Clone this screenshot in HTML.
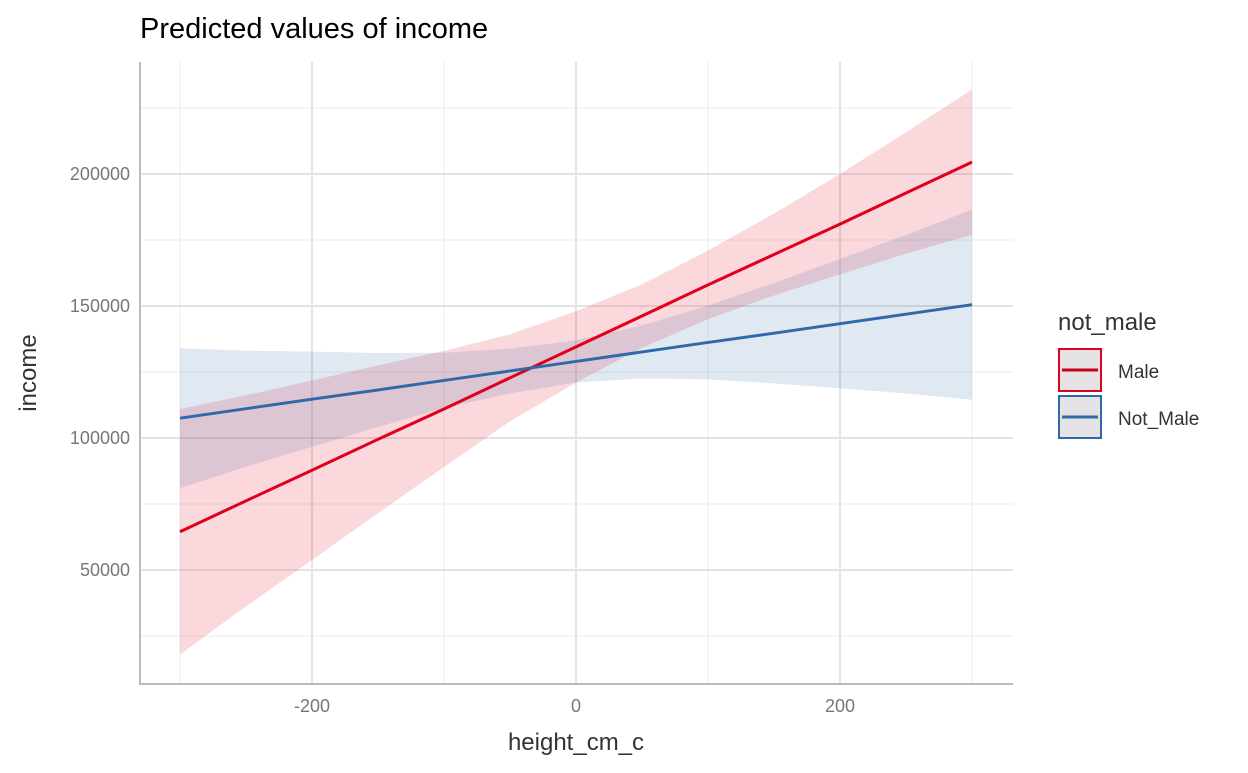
<!DOCTYPE html>
<html><head><meta charset="utf-8"><style>
body{margin:0;background:#fff;font-family:"Liberation Sans",Arial,sans-serif}
</style></head><body>
<svg width="1248" height="768" xmlns="http://www.w3.org/2000/svg">
<text x="140" y="38" font-size="29" fill="#000">Predicted values of income</text>
<g id="grid"></g>
<g id="bands"></g>
<g id="lines"></g>
<g id="axes"></g>
<text x="576" y="750" font-size="24" text-anchor="middle" fill="#333">height_cm_c</text>
<text transform="translate(36,373) rotate(-90)" font-size="24" text-anchor="middle" fill="#333">income</text>
<g>
<text x="1058" y="330" font-size="24" fill="#333">not_male</text>
<g>
<rect x="1059" y="349" width="42" height="42" fill="#e3e3e3" stroke="#e0001b" stroke-width="2"/>
<line x1="1062" y1="370" x2="1098" y2="370" stroke="#c8001a" stroke-width="3"/>
<text x="1118" y="378" font-size="19" fill="#333">Male</text></g>
<g>
<rect x="1059" y="396" width="42" height="42" fill="#e3e3e3" stroke="#2f6aa8" stroke-width="2"/>
<line x1="1062" y1="417" x2="1098" y2="417" stroke="#2f6aa8" stroke-width="3"/>
<text x="1118" y="425" font-size="19" fill="#333">Not_Male</text></g>
</g>
</svg>
<script>
const xs=[-300,-250,-200,-150,-100,-50,0,50,100,150,200,250,300];
const maleFit=[64.5,76.2,87.8,99.5,111,122.8,134.5,146.2,158,169.5,181,192.8,204.5];
const maleHalf=[46.5,40,34,28,22,16.5,13.5,12,13,15.5,19,23,27.5];
const notMaleFit=[107.5,111.1,114.7,118.2,121.8,125.4,129,132.6,136.2,139.7,143.3,146.9,150.5];
const notMaleHalf=[26.5,22,18,14,10.5,8.5,8,10,14,19,24.5,30,36];
const xTicks=[-200,0,200];
const yTicks=[50000,100000,150000,200000];
const X=v=>576+v*1.32;
const Y=v=>438-(v-100000)*0.00264;
const NS="http://www.w3.org/2000/svg";
function mk(t,a,p){const e=document.createElementNS(NS,t);for(const k in a)e.setAttribute(k,a[k]);p.appendChild(e);return e;}
const g=document.getElementById('grid');
[-300,-100,100,300].forEach(v=>{const l=mk('line',{x1:X(v),x2:X(v),y1:62,y2:684,stroke:'#ebebeb','stroke-width':1},g);});
[25000,75000,125000,175000,225000].forEach(v=>{const l=mk('line',{x1:140,x2:1013,y1:Y(v),y2:Y(v),stroke:'#ebebeb','stroke-width':1},g);});
xTicks.forEach(v=>{const l=mk('line',{x1:X(v),x2:X(v),y1:62,y2:684,stroke:'#e3e3e3','stroke-width':2},g);
const t=mk('text',{x:X(v),y:712,'font-size':18,'text-anchor':'middle',fill:'#777'},g);t.textContent=v;});
yTicks.forEach(v=>{const l=mk('line',{x1:140,x2:1013,y1:Y(v),y2:Y(v),stroke:'#e3e3e3','stroke-width':2},g);
const t=mk('text',{x:130,y:Y(v)+6,'font-size':18,'text-anchor':'end',fill:'#777'},g);t.textContent=v;});
const b=document.getElementById('bands'),ln=document.getElementById('lines');
function series(fit,half,fill,stroke,name){
 let up=xs.map((x,i)=>X(x)+','+Y((fit[i]+half[i])*1000));
 let lo=xs.map((x,i)=>X(x)+','+Y((fit[i]-half[i])*1000)).reverse();
 const p=mk('polygon',{points:up.concat(lo).join(' '),fill:fill},b);
 
 const l=mk('polyline',{points:xs.map((x,i)=>X(x)+','+Y(fit[i]*1000)).join(' '),fill:'none',stroke:stroke,'stroke-width':3},ln);
 
}
series(maleFit,maleHalf,'rgba(232,40,60,0.18)','#e0001b','male');
series(notMaleFit,notMaleHalf,'rgba(50,100,165,0.15)','#2f6aa8','not-male');
const a=document.getElementById('axes');
let e=mk('line',{x1:140,x2:140,y1:62,y2:685,stroke:'#bbb','stroke-width':2},a);
e=mk('line',{x1:139,x2:1013,y1:684,y2:684,stroke:'#bbb','stroke-width':2},a);
</script>
</body></html>
